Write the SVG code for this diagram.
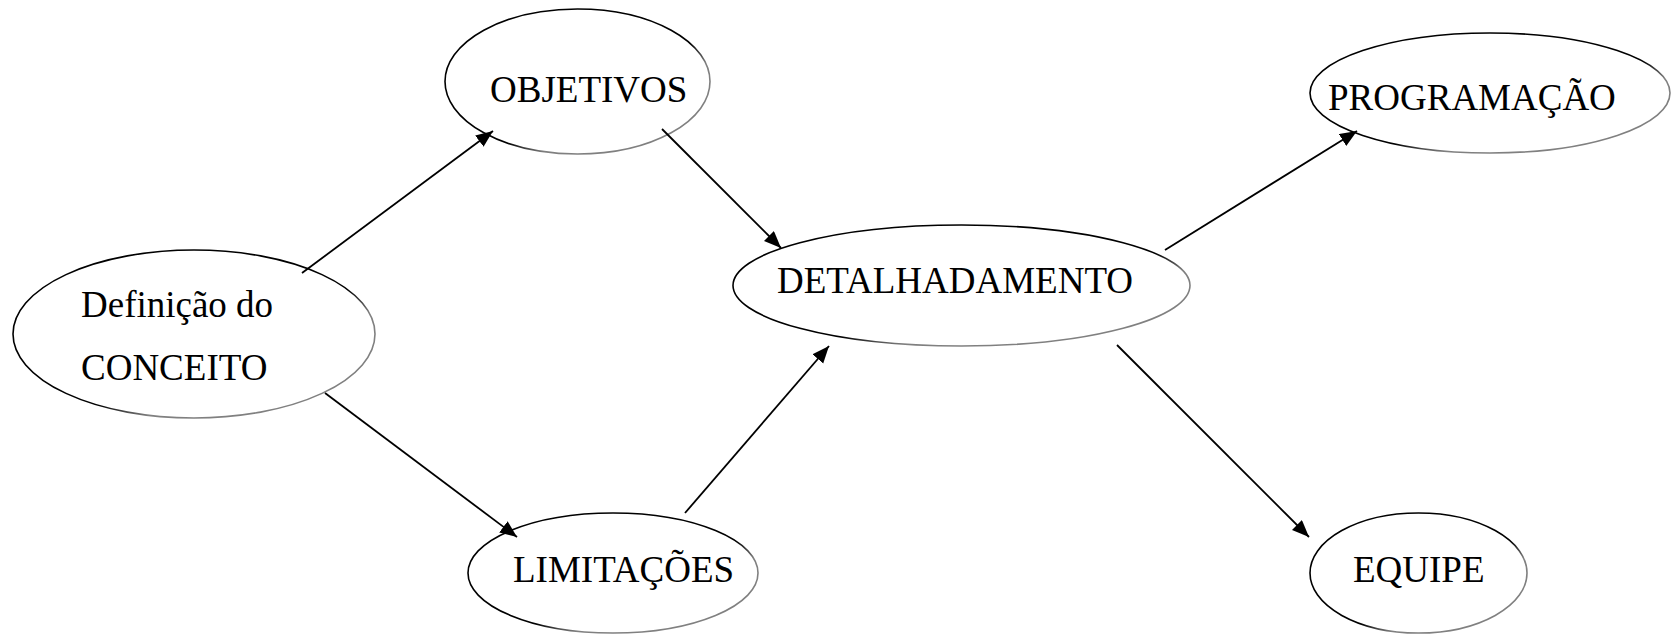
<svg xmlns="http://www.w3.org/2000/svg" width="1672" height="634" viewBox="0 0 1672 634">
<style>
.n{fill:#fff;stroke:url(#g);stroke-width:1.6}
.t{font-size:37px;fill:#000}
.c{stroke:#000;stroke-width:1.8;fill:none;marker-end:url(#a)}
</style>
<defs>
<linearGradient id="g" x1="0" y1="0" x2="1" y2="1">
<stop offset="0.58" stop-color="#000"/>
<stop offset="0.68" stop-color="#808080"/>
</linearGradient>
<marker id="a" markerUnits="userSpaceOnUse" markerWidth="18" markerHeight="15" refX="17" refY="7" orient="auto">
<path d="M0,0 L17,7 L0,14 z" fill="#000"/>
</marker>
</defs>
<rect width="1672" height="634" fill="#fff"/>
<g font-family="'Liberation Serif', 'DejaVu Serif', serif">
<g id="definicao">
<ellipse class="n" cx="194" cy="334" rx="181" ry="84"/>
<text class="t" x="81" y="317">Definição do</text>
<text class="t" x="81" y="380">CONCEITO</text>
</g>
<g id="objetivos">
<ellipse class="n" cx="577.5" cy="81.5" rx="132.5" ry="72.5"/>
<text class="t" x="490" y="102">OBJETIVOS</text>
</g>
<g id="detalhamento">
<ellipse class="n" cx="961.5" cy="285.5" rx="228.5" ry="60.5"/>
<text class="t" x="777" y="293">DETALHADAMENTO</text>
</g>
<g id="limitacoes">
<ellipse class="n" cx="613" cy="573" rx="145" ry="60"/>
<text class="t" x="513" y="582">LIMITAÇÕES</text>
</g>
<g id="programacao">
<ellipse class="n" cx="1490" cy="93" rx="180" ry="60"/>
<text class="t" x="1328" y="110">PROGRAMAÇÃO</text>
</g>
<g id="equipe">
<ellipse class="n" cx="1418.5" cy="573" rx="108.5" ry="60"/>
<text class="t" x="1353" y="582">EQUIPE</text>
</g>
</g>
<g id="connectors">
<line class="c" x1="302" y1="273" x2="493" y2="131"/>
<line class="c" x1="325" y1="393" x2="517" y2="537"/>
<line class="c" x1="662" y1="129" x2="781" y2="248"/>
<line class="c" x1="685" y1="513" x2="829" y2="346"/>
<line class="c" x1="1165" y1="250" x2="1357" y2="131"/>
<line class="c" x1="1117" y1="345" x2="1309" y2="537"/>
</g>
</svg>
